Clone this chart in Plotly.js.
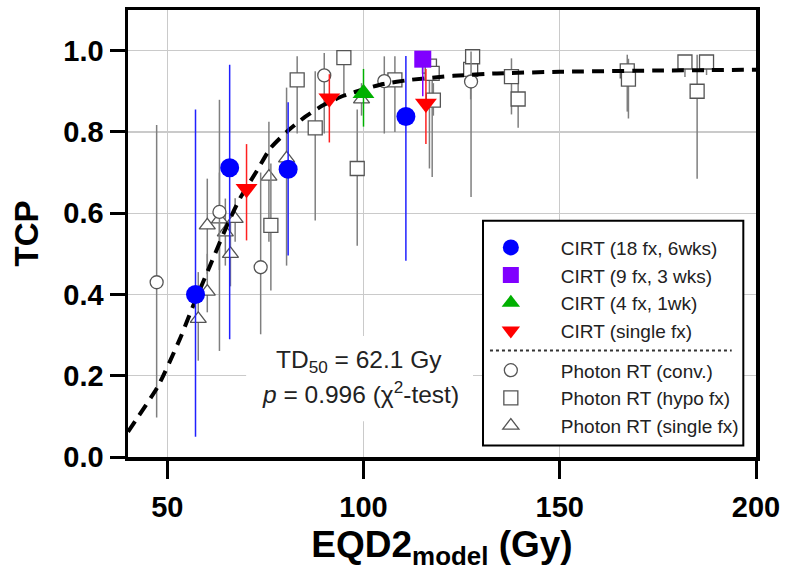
<!DOCTYPE html>
<html><head><meta charset="utf-8">
<script src="https://cdn.plot.ly/plotly-3.0.1.min.js"></script>
<style>html,body{margin:0;padding:0;background:#fff}#chart{width:788px;height:576px}</style>
</head><body><div id="chart"></div>
<script>
// ---- CIRT (18 fx, 6 wks) ----
const cirt18X  = [57.2, 65.9, 80.8, 110.8];
const cirt18Y  = [0.400, 0.712, 0.708, 0.838];
const cirt18Hi = [0.855, 0.965, 0.873, 0.987];
const cirt18Lo = [0.050, 0.290, 0.496, 0.483];
// ---- CIRT (9 fx, 3 wks) ----
const cirt9X  = [115.1];
const cirt9Y  = [0.979];
const cirt9Hi = [0.979];
const cirt9Lo = [0.888];
// ---- CIRT (4 fx, 1 wk) ----
const cirt4X  = [100.0];
const cirt4Y  = [0.895];
const cirt4Hi = [0.955];
const cirt4Lo = [0.813];
// ---- CIRT (single fx) ----
const cirt1X  = [70.2, 91.3, 115.9];
const cirt1Y  = [0.660, 0.883, 0.870];
const cirt1Hi = [0.770, 0.942, 0.955];
const cirt1Lo = [0.533, 0.774, 0.770];
// ---- Photon RT (conv.) ----
const convX  = [47.3, 63.3, 73.8, 90.0, 105.3, 127.4];
const convY  = [0.430, 0.603, 0.467, 0.939, 0.925, 0.924];
const convHi = [0.817, 0.879, 0.700, 0.994, 0.986, 0.998];
const convLo = [0.097, 0.261, 0.302, 0.796, 0.796, 0.640];
// ---- Photon RT (hypo fx) ----
const hypoX  = [76.4, 83.1, 87.7, 95.0, 98.4, 108.0, 116.8, 117.5, 117.8, 127.3, 127.8, 137.7, 139.4, 167.2, 167.5, 181.9, 185.0, 187.4];
const hypoY  = [0.570, 0.928, 0.810, 0.983, 0.710, 0.928, 0.962, 0.944, 0.878, 0.954, 0.985, 0.936, 0.881, 0.950, 0.930, 0.972, 0.900, 0.972];
const hypoHi = [0.722, 0.986, 0.949, 0.983, 0.855, 0.986, 0.985, 0.975, 0.920, 0.990, 0.985, 0.981, 0.920, 0.990, 0.980, 0.972, 0.990, 0.972];
const hypoLo = [0.410, 0.796, 0.582, 0.891, 0.520, 0.800, 0.710, 0.689, 0.840, 0.880, 0.955, 0.843, 0.810, 0.850, 0.833, 0.935, 0.685, 0.940];
// ---- Photon RT (single fx) ----
const sfxX  = [57.9, 60.2, 60.2, 63.3, 64.8, 66.1, 67.3, 75.9, 80.4, 99.5];
const sfxY  = [0.340, 0.407, 0.570, 0.585, 0.553, 0.500, 0.586, 0.690, 0.735, 0.880];
const sfxHi = [0.455, 0.500, 0.685, 0.700, 0.636, 0.600, 0.637, 0.825, 0.909, 0.920];
const sfxLo = [0.237, 0.356, 0.450, 0.460, 0.471, 0.420, 0.530, 0.530, 0.471, 0.840];
// ---- fitted TCP curve ----
const curveX = [40, 47.7, 53.2, 56.6, 60.9, 65.6, 68.5, 73.2, 76.2, 80.4, 85.1, 89.8, 94.9, 100.8, 105, 111.8, 122.9, 134, 150, 175, 200];
const curveY = [0.062, 0.175, 0.290, 0.372, 0.471, 0.578, 0.636, 0.710, 0.759, 0.800, 0.837, 0.866, 0.889, 0.907, 0.918, 0.928, 0.938, 0.944, 0.948, 0.951, 0.953];
// ---- labels ----
const seriesNames = ['CIRT (18 fx, 6wks)', 'CIRT (9 fx, 3 wks)', 'CIRT (4 fx, 1wk)', 'CIRT (single fx)',
                     'Photon RT (conv.)', 'Photon RT (hypo fx)', 'Photon RT (single fx)'];
const xTicks = [50, 100, 150, 200];
const yTicks = [0, 0.2, 0.4, 0.6, 0.8, 1.0];

const FONT = 'Liberation Sans, Arial, sans-serif';

function diff(a, b, sign) { return a.map((v, i) => sign > 0 ? b[i] - v : v - b[i]); }

function mk(name, group, rank, x, y, hi, lo, marker, errColor, errW) {
  return {
    type: 'scatter', mode: 'markers', name: name, legendgroup: group, legendrank: rank,
    x: x, y: y, marker: marker, cliponaxis: false,
    error_y: { type: 'data', symmetric: false, array: diff(y, hi, 1), arrayminus: diff(y, lo, -1),
               color: errColor, thickness: errW, width: 0 }
  };
}
const gray = '#7f7f7f';
const openLine = { color: '#555', width: 1.3 };

const traces = [
  mk(seriesNames[6], 'photon', 7, sfxX, sfxY, sfxHi, sfxLo, { symbol: 'triangle-up', size: 14, color: '#fff', line: openLine }, gray, 1.5),
  mk(seriesNames[5], 'photon', 6, hypoX, hypoY, hypoHi, hypoLo, { symbol: 'square', size: 14, color: '#fff', line: openLine }, gray, 1.5),
  mk(seriesNames[4], 'photon', 5, convX, convY, convHi, convLo, { symbol: 'circle', size: 13, color: '#fff', line: openLine }, gray, 1.5),
  { type: 'scatter', mode: 'lines', x: curveX, y: curveY, showlegend: false, hoverinfo: 'skip',
    line: { color: '#000', width: 4, dash: '12px,8px', shape: 'spline', smoothing: 0.5 } },
  mk(seriesNames[3], 'cirt', 4, cirt1X, cirt1Y, cirt1Hi, cirt1Lo, { symbol: 'triangle-down', size: 19, color: '#ff0000' }, '#ff2020', 1.5),
  mk(seriesNames[2], 'cirt', 3, cirt4X, cirt4Y, cirt4Hi, cirt4Lo, { symbol: 'triangle-up', size: 19, color: '#00b000' }, '#00b000', 1.5),
  mk(seriesNames[1], 'cirt', 2, cirt9X, cirt9Y, cirt9Hi, cirt9Lo, { symbol: 'square', size: 17, color: '#8000ff' }, '#8000ff', 1.5),
  mk(seriesNames[0], 'cirt', 1, cirt18X, cirt18Y, cirt18Hi, cirt18Lo, { symbol: 'circle', size: 19, color: '#0000ff' }, '#2020ff', 1.5)
];

const axisCommon = {
  ticks: 'outside', tickwidth: 3, tickcolor: '#000',
  showline: true, linewidth: 3.5, linecolor: '#000', mirror: true,
  showgrid: true, gridcolor: '#cacaca', gridwidth: 1.3, zeroline: false,
  tickfont: { family: FONT, size: 29, weight: 'bold', color: '#000' }
};

const layout = {
  width: 788, height: 576,
  margin: { l: 128, r: 32, t: 10, b: 118.5 },
  paper_bgcolor: '#fff', plot_bgcolor: '#fff',
  showlegend: true,
  xaxis: Object.assign({}, axisCommon, {
    range: [40, 200], tickvals: xTicks, ticklen: 18, ticklabelstandoff: 4,
    title: { text: 'EQD2<sub>model</sub> (Gy)', font: { family: FONT, size: 37, weight: 'bold', color: '#000' }, standoff: 10 }
  }),
  yaxis: Object.assign({}, axisCommon, {
    range: [0, 1.1], tickvals: yTicks, tickformat: '.1f', ticklen: 15,
    title: { text: 'TCP', font: { family: FONT, size: 33, weight: 'bold', color: '#000' }, standoff: 16 }
  }),
  legend: {
    x: 0.530, y: 0.5111, xanchor: 'left', yanchor: 'top',
    bgcolor: 'rgba(0,0,0,0)', borderwidth: 0,
    font: { family: FONT, size: 19, color: '#222' },
    traceorder: 'grouped', tracegroupgap: 12, itemwidth: 90
  },
  shapes: [
    { type: 'rect', xref: 'x', yref: 'y', x0: 70.1, x1: 127.9, y0: 0.088, y1: 0.2975, layer: 'between',
      fillcolor: '#fff', line: { width: 0 } },
    { type: 'rect', xref: 'paper', yref: 'paper', x0: 0.5653, x1: 0.9798, y0: 0.0257, y1: 0.5285, layer: 'above',
      fillcolor: '#fff', line: { color: '#000', width: 2 } },
    { type: 'line', xref: 'paper', yref: 'paper', x0: 0.5764, x1: 0.9613, y0: 0.2380, y1: 0.2380, layer: 'above',
      line: { color: '#333', width: 2, dash: 'dot' } }
  ],
  annotations: [
    { xref: 'x', yref: 'y', x: 98.9, y: 0.236, text: 'TD<sub>50</sub> = 62.1 Gy', showarrow: false,
      font: { family: FONT, size: 24.5, color: '#222' } },
    { xref: 'x', yref: 'y', x: 99.3, y: 0.158, text: '<i>p</i> = 0.996 (χ<sup>2</sup>-test)', showarrow: false,
      font: { family: FONT, size: 24.5, color: '#222' } }
  ]
};

Plotly.newPlot('chart', traces, layout, { staticPlot: true, displayModeBar: false });
</script></body></html>
